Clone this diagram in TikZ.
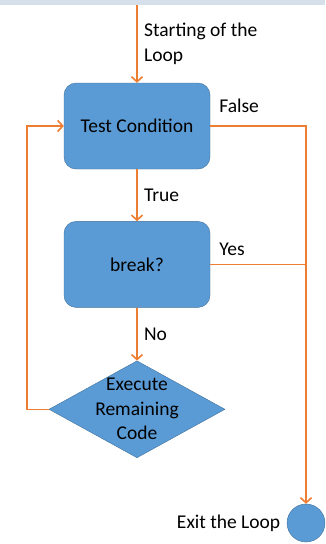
\documentclass[tikz,border=0pt]{standalone}
\usepackage{fontspec}
\setmainfont{Carlito}
\usepackage{xcolor}
\usepackage{tikz}
\usetikzlibrary{shapes.geometric, arrows.meta, positioning, calc}

\definecolor{boxblue}{HTML}{5B9BD5}
\definecolor{boxedge}{HTML}{41719C}
\definecolor{flow}{HTML}{ED7D31}
\definecolor{band}{HTML}{D6E0EB}

\begin{document}
\begin{tikzpicture}[
    x=1pt, y=-1pt,
    font=\fontsize{19.5}{24.5}\selectfont,
    box/.style={rectangle, draw=boxedge, fill=boxblue, rounded corners=12pt, minimum width=146pt, minimum height=86pt, text centered},
    decision/.style={diamond, draw=boxedge, fill=boxblue, aspect=1.81, inner xsep=0pt, inner ysep=-10pt, minimum width=176pt, minimum height=97pt, text width=90pt, align=center},
    stopnode/.style={circle, draw=boxedge, fill=boxblue, minimum size=38pt, inner sep=0pt},
    arrow/.style={-{Straight Barb[length=5pt, width=11pt]}, line width=1.6pt, draw=flow},
    line/.style={line width=1.6pt, draw=flow}
]
\useasboundingbox (0,0) rectangle (325,544);
\fill[band] (0,0) rectangle (325,5);

\node[box] (test) at (137,126) {Test Condition};
\node[box, below=52pt of test] (brk) {break?};
\node[decision, below=53pt of brk] (exec) {Execute\\Remaining\\Code};
\node[stopnode] (exit) at (306,523) {};
\node[left=3pt of exit] (exitlbl) {Exit the Loop};

\coordinate (start) at (137,5);
\coordinate (rail) at (306,126);

% entry
\draw[arrow] (start) -- node[right, align=left, xshift=3pt] {Starting of the\\Loop} (test);
% true / no
\draw[arrow] (test) -- node[right, xshift=3pt] {True} (brk);
\draw[arrow] (brk) -- node[right, xshift=3pt] {No} (exec);
% false goes to exit
\draw[arrow] (test.east) -- node[at start, anchor=south west, xshift=5pt, yshift=9pt] {False} (rail) -- (exit);
\draw[line] (brk.east) -- node[at start, anchor=south west, xshift=5pt, yshift=5pt] {Yes} (brk.east -| rail);
% back to the test
\draw[arrow] (exec.west) -- ++(-22,0) |- (test.west);

\end{tikzpicture}
\end{document}
